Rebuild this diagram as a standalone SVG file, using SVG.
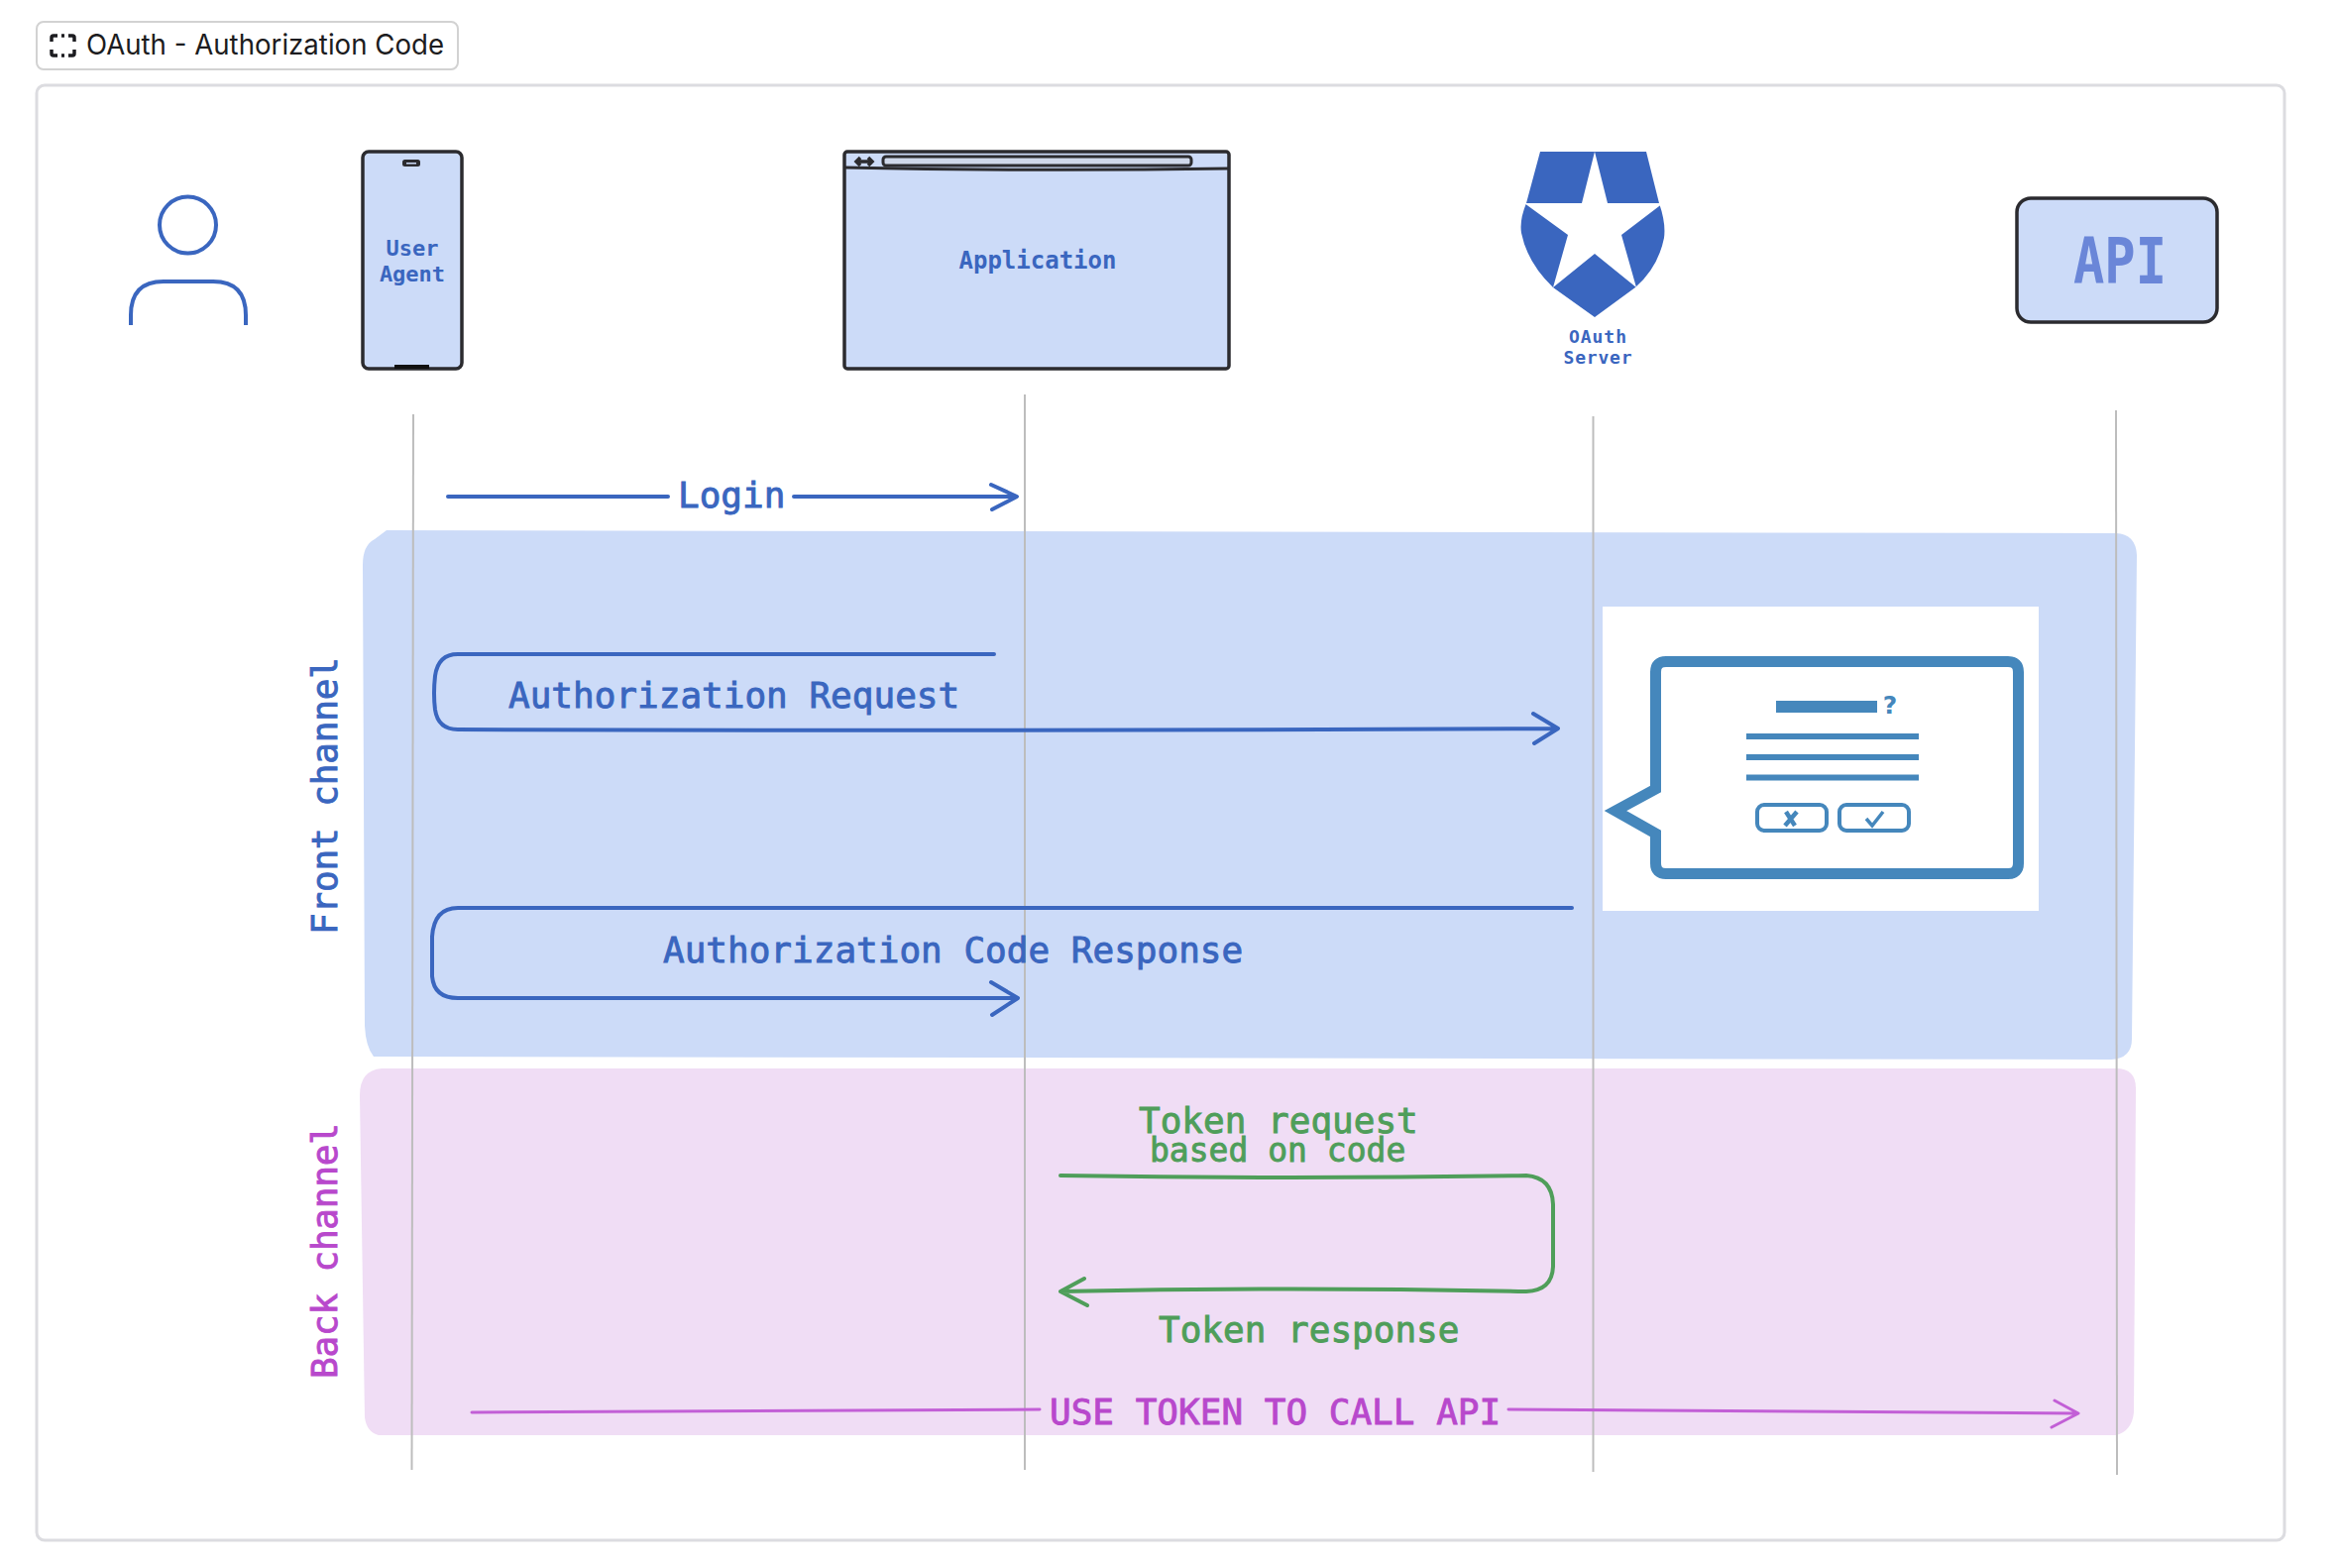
<svg xmlns="http://www.w3.org/2000/svg" width="2360" height="1582" viewBox="0 0 2360 1582">
<style>
.mono{font-family:"DejaVu Sans Mono","Liberation Mono",monospace}
.lb{font-size:36px;fill:#3a66bf;stroke:#3a66bf;stroke-width:.9}
.lg{font-size:36px;fill:#4f9e5a;stroke:#4f9e5a;stroke-width:.9}
.lp{font-size:36px;fill:#b848cc;stroke:#b848cc;stroke-width:.9}
.nl{fill:#3a66bf;font-weight:700;text-anchor:middle}
.dev{fill:#ccdbf8;stroke:#2b2b2f;stroke-width:3.500;stroke-linejoin:round}
.life{fill:none;stroke:#bdbdbd;stroke-width:2}
.cb{fill:none;stroke:#3a66bf;stroke-width:4;stroke-linecap:round;stroke-linejoin:round}
.cg{fill:none;stroke:#4f9e5a;stroke-width:4;stroke-linecap:round;stroke-linejoin:round}
.cp{fill:none;stroke:#c25fd6;stroke-width:3;stroke-linecap:round;stroke-linejoin:round}
.dlg{fill:none;stroke:#4587bc}
</style>
<rect width="2360" height="1582" fill="#fff"/>
<g id="title">
<rect x="37" y="22" width="425" height="48" rx="7" fill="#fff" stroke="#d2d2d2" stroke-width="2"/>
<path d="M58 36 H54 Q52 36 52 38 V42 M69 36 H73 Q75 36 75 38 V42 M52 50 V54 Q52 56 54 56 H58 M75 50 V54 Q75 56 73 56 H69 M62 36 H65 M62 56 H65" fill="none" stroke="#1c1c20" stroke-width="3.500"/>
<text x="87" y="55" font-family="Inter, sans-serif" font-size="28" fill="#1c1c20" textLength="361" lengthAdjust="spacingAndGlyphs">OAuth - Authorization Code</text>
</g>
<rect id="frame" x="37" y="86" width="2268" height="1468" rx="8" fill="#fff" stroke="#dcdce0" stroke-width="3"/>
<g id="band-front">
<path d="M390 535 L2135 538 Q2155 539 2156 560 L2151 1048 Q2151 1068 2130 1069 L377 1066 Q369 1056 368 1035 L366 570 Q366 550 378 544 Z" fill="#ccdbf8"/>
<text class="mono lb" transform="translate(340 943) rotate(-90)" textLength="280">Front channel</text>
</g>
<g id="band-back">
<path d="M385 1078 L2135 1078 Q2155 1078 2155 1098 L2153 1425 Q2151 1444 2135 1448 L382 1448 Q370 1445 368 1430 L363 1105 Q363 1080 385 1078 Z" fill="#f0ddf5"/>
<text class="mono lp" transform="translate(340 1391) rotate(-90)" textLength="258">Back channel</text>
</g>
<g id="lifelines">
<path class="life" d="M417 418 L415.500 1483"/>
<path class="life" d="M1034 398 V1483"/>
<path class="life" d="M1607.500 420 V1485"/>
<path class="life" d="M2135 414 L2136 1488"/>
</g>
<g id="node-user">
<circle cx="189.500" cy="227" r="28.500" fill="none" stroke="#3a66bf" stroke-width="4"/>
<path d="M132 328 V318 Q132 284 165 284 H215 Q248 284 248 318 V328" fill="none" stroke="#3a66bf" stroke-width="4"/>
</g>
<g id="node-agent">
<rect class="dev" x="366" y="153" width="100" height="219" rx="6"/>
<rect x="406" y="161" width="18" height="7" rx="2.500" fill="#2b2b2f"/>
<rect x="410" y="164" width="10" height="1.500" fill="#ccdbf8"/>
<rect x="398" y="368" width="35" height="4" fill="#111"/>
<text class="mono nl" font-size="22" x="416" y="258">User</text>
<text class="mono nl" font-size="22" x="416" y="284">Agent</text>
</g>
<g id="node-application">
<rect class="dev" x="852" y="153" width="388" height="219" rx="3"/>
<path d="M852 169 Q1040 173 1240 170" fill="none" stroke="#2b2b2f" stroke-width="3"/>
<rect x="891" y="158" width="311" height="9" rx="3" fill="#cfd8ea" stroke="#2b2b2f" stroke-width="3"/>
<path d="M864 163 H880 M868 159 L864 163 L868 167 M876 159 L880 163 L876 167" fill="none" stroke="#2b2b2f" stroke-width="3.500"/>
<text class="mono nl" font-size="24" x="1047" y="271">Application</text>
</g>
<g id="node-oauth">
<path d="M1554 153 H1661 L1674 205 Q1681 225 1679 240 Q1673 270 1650 290 L1609 320 L1567 290 Q1541 265 1535 235 Q1533 222 1540 205 Z" fill="#3a66bf"/>
<path d="M1609 153 L1622 205 H1678 L1636 237 L1651 290 L1609 256 L1567 290 L1582 237 L1538 205 H1596 Z" fill="#fff"/>
<text class="mono nl" font-size="18" x="1612" y="346" textLength="58">OAuth</text>
<text class="mono nl" font-size="18" x="1612" y="367" textLength="69">Server</text>
</g>
<g id="node-api">
<rect class="dev" x="2035" y="200" width="202" height="125" rx="14"/>
<text class="mono" x="2092" y="286" font-size="64" font-weight="700" fill="#6a86d8" textLength="94" lengthAdjust="spacingAndGlyphs">API</text>
</g>
<g id="node-consent">
<rect x="1617" y="612" width="440" height="307" fill="#fff"/>
<path class="dlg" stroke-width="11" stroke-miterlimit="6" d="M1670.500 796 V678 Q1670.500 667.500 1681 667.500 H2026 Q2036.500 667.500 2036.500 678 V871 Q2036.500 881.500 2026 881.500 H1681 Q1670.500 881.500 1670.500 871 V841 L1630 818 Z"/>
<rect x="1792" y="707" width="102" height="12" fill="#4587bc"/>
<text x="1907" y="720" font-family="'DejaVu Sans',sans-serif" font-size="25" font-weight="700" fill="#4587bc" text-anchor="middle">?</text>
<path class="dlg" stroke-width="6" d="M1762 743 H1936 M1762 764 H1936 M1762 784.500 H1936"/>
<rect class="dlg" stroke-width="4" x="1773" y="812" width="70" height="26" rx="7"/>
<rect class="dlg" stroke-width="4" x="1856" y="812" width="70" height="26" rx="7"/>
<path class="dlg" stroke-width="4.500" d="M1802 819 L1811 833 M1813 819 L1801 833"/>
<path class="dlg" stroke-width="3.500" d="M1883 826 L1889 833 L1900 819"/>
</g>
<g id="connectors">
<path class="cb" d="M452 501 H674 M801 501 H1025 M1000 489 L1026 501 L1001 514"/>
<text class="mono lb" x="684" y="512">Login</text>
<path class="cb" d="M1003 660 H462 Q442 660 439 682 Q437 700 439 716 Q442 736 462 736 Q1000 738 1572 735 M1547 720 L1572 735 L1548 750"/>
<text class="mono lb" x="513" y="714">Authorization Request</text>
<path class="cb" d="M1586 916 H462 Q438 916 436 945 V985 Q438 1007 462 1007 H1027 M1000 991 L1027 1007 L1001 1024"/>
<text class="mono lb" x="669" y="971">Authorization Code Response</text>
<path class="cg" d="M1070 1186 Q1300 1190 1540 1186 Q1566 1188 1567 1215 V1278 Q1566 1302 1540 1303 Q1300 1298 1070 1303 M1094 1290 L1070 1303 L1097 1317"/>
<text class="mono lg" x="1149" y="1143">Token request</text>
<text class="mono lg" x="1160" y="1172" style="font-size:33px">based on code</text>
<text class="mono lg" x="1169" y="1354">Token response</text>
<path class="cp" d="M476 1425 L1049 1422 M1522 1422 L2096 1426 M2073 1413 L2097 1426 L2070 1440"/>
<text class="mono lp" x="1059" y="1437">USE TOKEN TO CALL API</text>
</g>
</svg>
